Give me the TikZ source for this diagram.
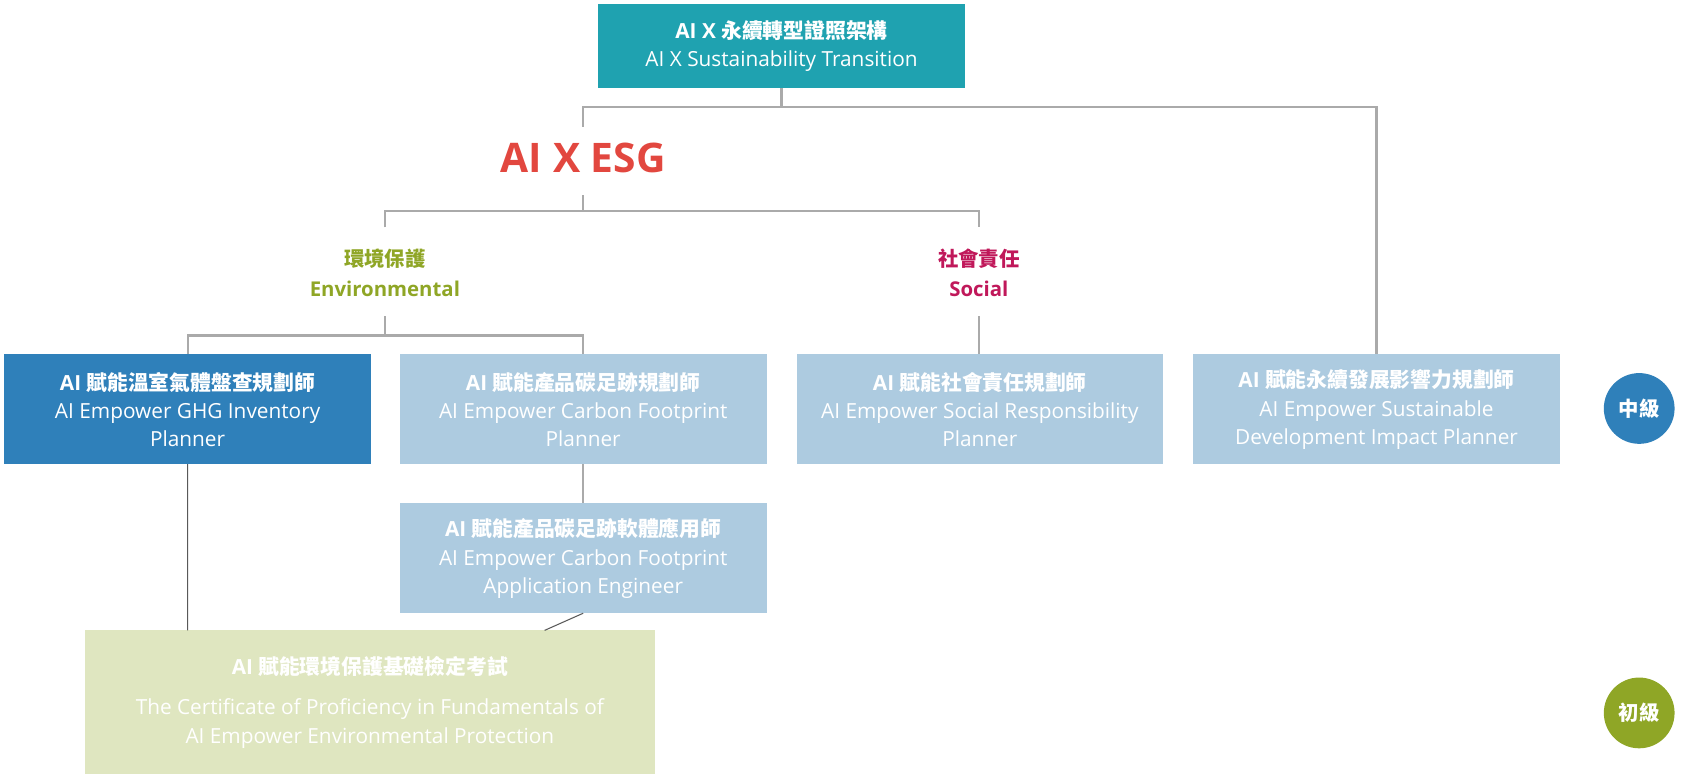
\documentclass[tikz,border=0pt]{standalone}
\usepackage{fontspec}
\setmainfont{Open Sans}
\newfontfamily\cjk{Noto Sans CJK TC}
\definecolor{teal}{HTML}{1FA2B0}
\definecolor{dblue}{HTML}{2F80BA}
\definecolor{lblue}{HTML}{ADCBE0}
\definecolor{pgreen}{HTML}{DFE6C0}
\definecolor{egreen}{HTML}{8FA626}
\definecolor{soc}{HTML}{C0185A}
\definecolor{esg}{HTML}{E2473F}
\definecolor{ln}{HTML}{AAAAAA}
\tikzset{
 bx/.style={inner sep=0,text=white,align=center,font=\fontsize{19.4}{26.5}\selectfont},
 conn/.style={ln,line width=2pt},
}
\begin{document}
\begin{tikzpicture}[x=1pt,y=-1pt]
\useasboundingbox (0,0) rectangle (1568,728);
\fill[teal] (558,4) rectangle (900,82);
\node[bx,text=white] (top) at (729,43) {\textbf{AI X {\cjk 永續轉型證照架構}}\\AI X Sustainability Transition};
\node[font=\fontsize{38}{44}\selectfont\bfseries,text=esg] (esg) at (544,147) {AI X ESG};
\node[align=center,text=egreen,font=\fontsize{19}{28}\selectfont\bfseries] (env) at (359,254) {{\cjk 環境保護}\\Environmental};
\node[align=center,text=soc,font=\fontsize{19}{28}\selectfont\bfseries] (soc) at (913,254) {{\cjk 社會責任}\\Social};
\fill[dblue] (4,330) rectangle (346,433);
\fill[lblue] (373,330) rectangle (715,433);
\fill[lblue] (743,330) rectangle (1085,433);
\fill[lblue] (1113,330) rectangle (1455,433);
\fill[lblue] (373,469) rectangle (715,572);
\fill[pgreen] (79,588) rectangle (611,722);
\node[bx] (b1) at (175,382) {\textbf{AI {\cjk 賦能溫室氣體盤查規劃師}}\\AI Empower GHG Inventory\\Planner};
\node[bx] (b2) at (544,382) {\textbf{AI {\cjk 賦能產品碳足跡規劃師}}\\AI Empower Carbon Footprint\\Planner};
\node[bx] (b3) at (914,382) {\textbf{AI {\cjk 賦能社會責任規劃師}}\\AI Empower Social Responsibility\\Planner};
\node[bx] (b4) at (1284,382) {\textbf{AI {\cjk 賦能永續發展影響力規劃師}}\\AI Empower Sustainable\\Development Impact Planner};
\node[bx] (b5) at (544,521) {\textbf{AI {\cjk 賦能產品碳足跡軟體應用師}}\\AI Empower Carbon Footprint\\Application Engineer};
\node[bx] (b6t) at (345,622) {\textbf{AI {\cjk 賦能環境保護基礎檢定考試}}};
\node[bx] (b6) at (345,675) {The Certificate of Proficiency in Fundamentals of\\AI Empower Environmental Protection};
\fill[dblue] (1529,381) circle (33);
\node[text=white,font=\fontsize{19}{20}\selectfont\bfseries\cjk] (c1) at (1529,381) {中級};
\fill[egreen] (1529,665) circle (33);
\node[text=white,font=\fontsize{19}{20}\selectfont\bfseries\cjk] (c2) at (1529,665) {初級};
\coordinate (t) at (729,82);
\draw[conn] (t) -- (729,100) (544,118) -- (544,100) -- (1284,100) -- (1284,330);
\draw[conn] (544,182) -- (544,197) (359,212) -- (359,197) -- (913,197) -- (913,212);
\draw[conn] (359,295) -- (359,313) (175,330) -- (175,313) -- (544,313) -- (544,330);
\draw[conn] (913,295) -- (913,330);
\draw[conn] (544,433) -- (544,469);
\draw[gray!70!black,line width=1pt] (175,433) -- (175,588) (544,572) -- (508,588);
\end{tikzpicture}
\end{document}
